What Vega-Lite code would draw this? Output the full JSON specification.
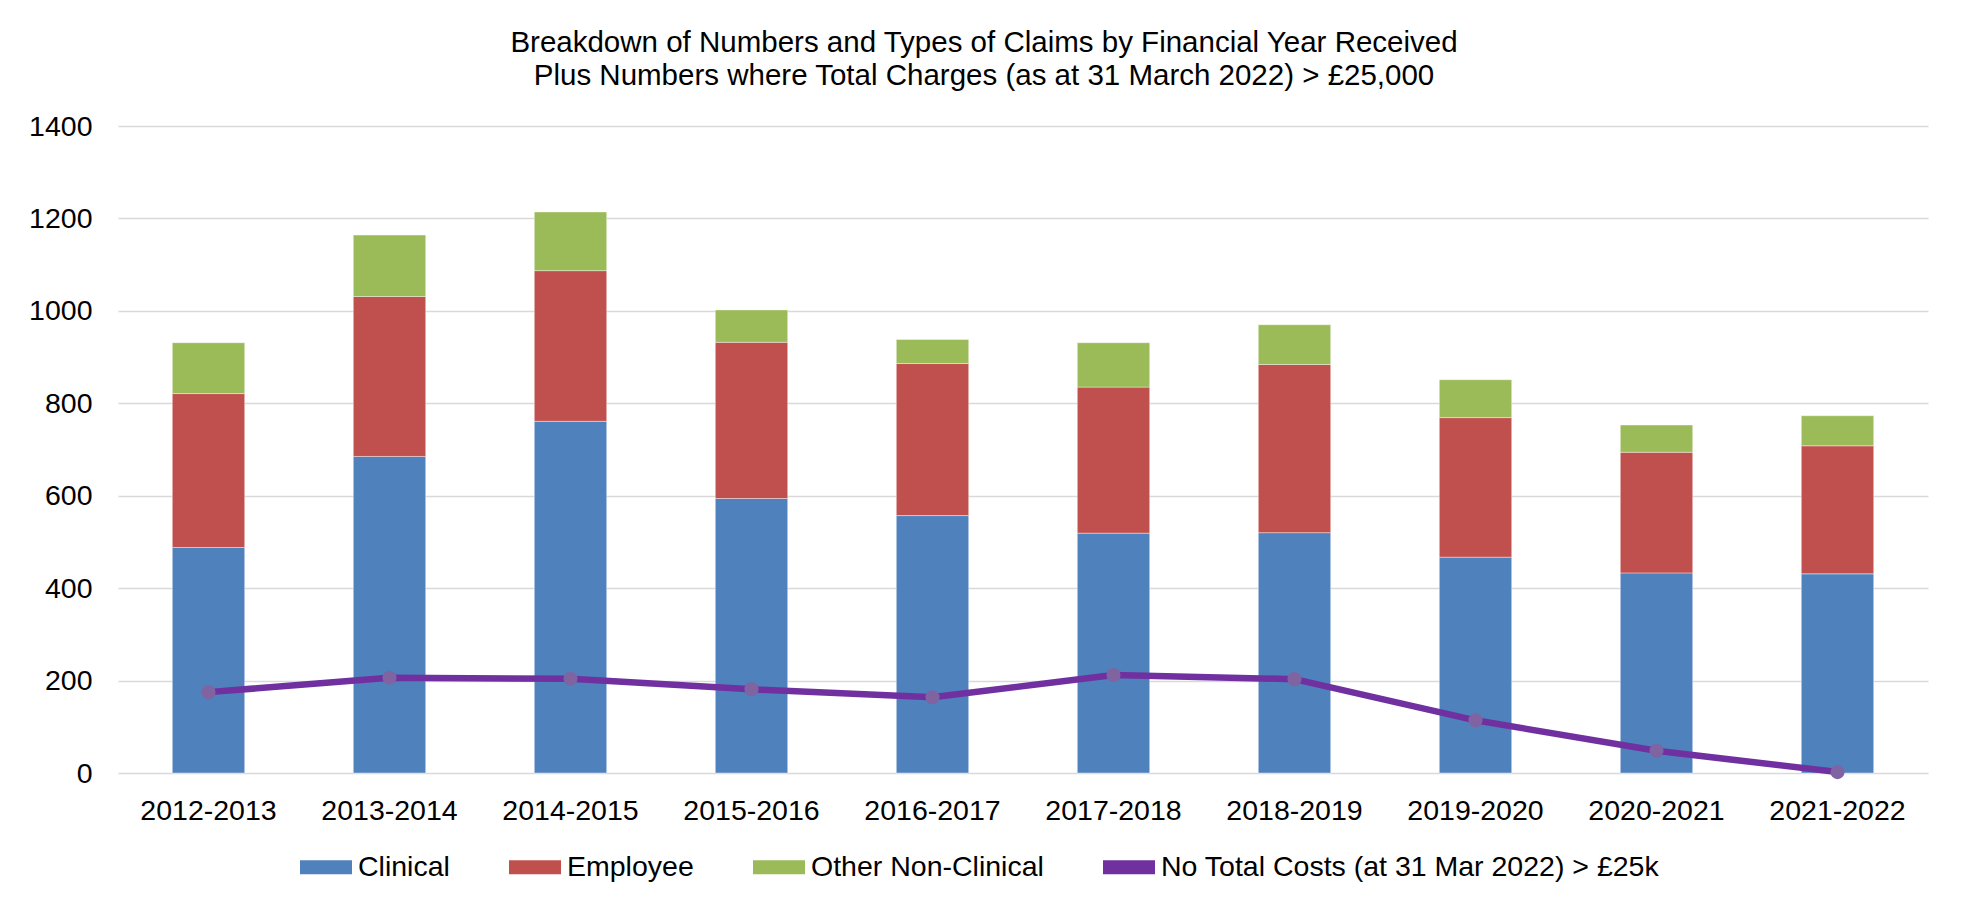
{
  "$schema": "https://vega.github.io/schema/vega-lite/v6.json",
  "autosize": {"type": "none"},
  "width": 1810,
  "height": 647,
  "padding": {"left": 118, "top": 126, "right": 40, "bottom": 129},
  "background": "white",
  "title": {
    "text": ["Breakdown of Numbers and Types of Claims by Financial Year Received", "Plus Numbers where Total Charges (as at 31 March 2022) > £25,000"],
    "anchor": "middle",
    "dx": -39,
    "offset": 20,
    "font": "Liberation Sans",
    "fontSize": 29.5,
    "fontWeight": "normal",
    "color": "#000000",
    "lineHeight": 33.3
  },
  "datasets": {
    "bars": [
      {"year": "2012-2013", "type": "Clinical", "count": 488},
      {"year": "2012-2013", "type": "Employee", "count": 333},
      {"year": "2012-2013", "type": "Other Non-Clinical", "count": 110},
      {"year": "2013-2014", "type": "Clinical", "count": 685},
      {"year": "2013-2014", "type": "Employee", "count": 346},
      {"year": "2013-2014", "type": "Other Non-Clinical", "count": 133},
      {"year": "2014-2015", "type": "Clinical", "count": 761},
      {"year": "2014-2015", "type": "Employee", "count": 326},
      {"year": "2014-2015", "type": "Other Non-Clinical", "count": 127},
      {"year": "2015-2016", "type": "Clinical", "count": 594},
      {"year": "2015-2016", "type": "Employee", "count": 338},
      {"year": "2015-2016", "type": "Other Non-Clinical", "count": 70},
      {"year": "2016-2017", "type": "Clinical", "count": 557},
      {"year": "2016-2017", "type": "Employee", "count": 329},
      {"year": "2016-2017", "type": "Other Non-Clinical", "count": 52},
      {"year": "2017-2018", "type": "Clinical", "count": 519},
      {"year": "2017-2018", "type": "Employee", "count": 316},
      {"year": "2017-2018", "type": "Other Non-Clinical", "count": 96},
      {"year": "2018-2019", "type": "Clinical", "count": 520},
      {"year": "2018-2019", "type": "Employee", "count": 364},
      {"year": "2018-2019", "type": "Other Non-Clinical", "count": 86},
      {"year": "2019-2020", "type": "Clinical", "count": 467},
      {"year": "2019-2020", "type": "Employee", "count": 302},
      {"year": "2019-2020", "type": "Other Non-Clinical", "count": 82},
      {"year": "2020-2021", "type": "Clinical", "count": 433},
      {"year": "2020-2021", "type": "Employee", "count": 261},
      {"year": "2020-2021", "type": "Other Non-Clinical", "count": 59},
      {"year": "2021-2022", "type": "Clinical", "count": 431},
      {"year": "2021-2022", "type": "Employee", "count": 277},
      {"year": "2021-2022", "type": "Other Non-Clinical", "count": 65}
    ],
    "line": [
      {"year": "2012-2013", "n": 175},
      {"year": "2013-2014", "n": 206},
      {"year": "2014-2015", "n": 204},
      {"year": "2015-2016", "n": 181},
      {"year": "2016-2017", "n": 164},
      {"year": "2017-2018", "n": 212},
      {"year": "2018-2019", "n": 203},
      {"year": "2019-2020", "n": 114},
      {"year": "2020-2021", "n": 48},
      {"year": "2021-2022", "n": 2}
    ]
  },
  "layer": [
    {
      "data": {"name": "bars"},
      "mark": {"type": "bar", "stroke": "#ffffff", "strokeWidth": 0.8, "strokeOpacity": 0.5},
      "encoding": {
        "x": {
          "field": "year", "type": "nominal", "sort": null,
          "scale": {"paddingInner": 0.6, "paddingOuter": 0.3},
          "axis": {
            "title": null, "labelAngle": 0, "ticks": false, "tickSize": 0, "domain": false,
            "labelPadding": 23, "labelFont": "Liberation Sans", "labelFontSize": 28.5, "labelColor": "#000000", "labelLimit": 1000
          }
        },
        "y": {
          "field": "count", "type": "quantitative", "stack": "zero",
          "scale": {"domain": [0, 1400], "nice": false},
          "axis": {
            "title": null, "values": [0, 200, 400, 600, 800, 1000, 1200, 1400], "format": "d", "ticks": false, "tickSize": 0, "domain": false,
            "labelPadding": 26, "labelFont": "Liberation Sans", "labelFontSize": 28.5, "labelColor": "#000000",
            "grid": true, "gridColor": "#d9d9d9", "gridWidth": 1.6
          }
        },
        "color": {
          "field": "type", "type": "nominal",
          "scale": {
            "domain": ["Clinical", "Employee", "Other Non-Clinical", "No Total Costs (at 31 Mar 2022) > £25k"],
            "range": ["#4f81bd", "#c0504d", "#9bbb59", "#7030a0"]
          },
          "legend": {
            "orient": "none", "legendX": 182, "legendY": 715, "direction": "horizontal", "title": null,
            "labelFont": "Liberation Sans", "labelFontSize": 28.5, "labelColor": "#000000", "labelOffset": 6,
            "columnPadding": 59, "symbolSize": 2704, "padding": 0, "labelLimit": 1000,
            "symbolType": "M-1,-0.27H1V0.27H-1Z",
            "symbolStrokeWidth": 0,
            "encode": {
              "symbols": {
                "shape": {"value": {"expr": "datum.index === 3 ? 'M-1,-0.125H1.2V0.125H-1ZM0.39,0A0.29,0.29,0,1,1,-0.19,0A0.29,0.29,0,1,1,0.39,0Z' : 'M-1,-0.27H1V0.27H-1Z'"}}
              }
            }
          }
        },
        "order": {"field": "type", "sort": "ascending"}
      }
    },
    {
      "data": {"name": "line"},
      "mark": {"type": "line", "strokeWidth": 6.5, "strokeJoin": "round"},
      "encoding": {
        "x": {"field": "year", "type": "nominal", "sort": null},
        "y": {"field": "n", "type": "quantitative"},
        "color": {"datum": "No Total Costs (at 31 Mar 2022) > £25k"}
      }
    },
    {
      "data": {"name": "line"},
      "mark": {"type": "point", "filled": true, "size": 200, "color": "#8064a2", "opacity": 1, "strokeWidth": 0},
      "encoding": {
        "x": {"field": "year", "type": "nominal", "sort": null},
        "y": {"field": "n", "type": "quantitative"}
      }
    }
  ],
  "config": {
    "view": {"stroke": null},
    "font": "Liberation Sans"
  }
}
